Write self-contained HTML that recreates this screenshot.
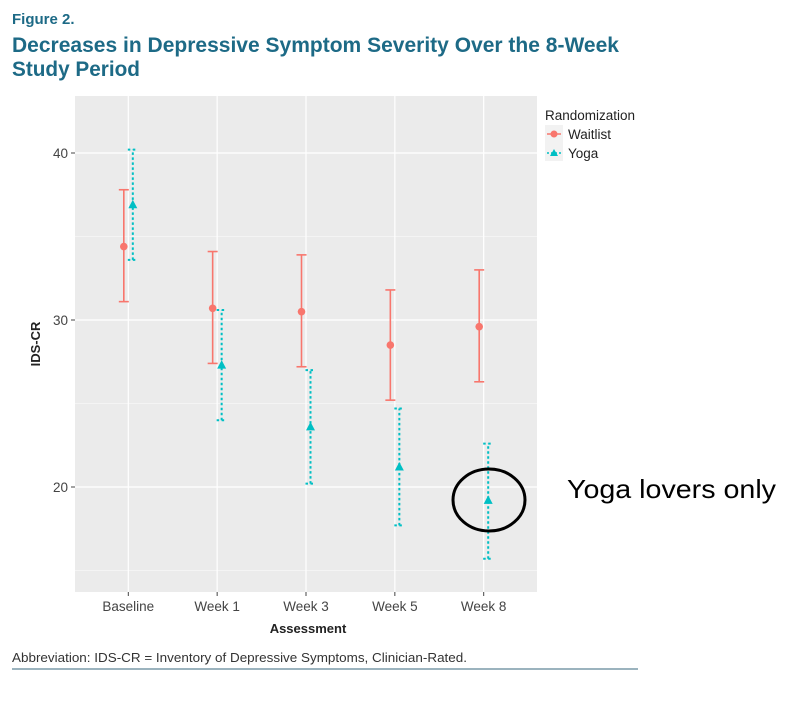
<!DOCTYPE html>
<html><head><meta charset="utf-8">
<style>
body{margin:0;background:#fff;width:805px;height:702px;overflow:hidden;font-family:"Liberation Sans",sans-serif;}
</style></head>
<body>
<svg width="805" height="702">
<text x="12" y="24" font-size="15" font-weight="bold" fill="#1d6a86">Figure 2.</text>
<text x="12" y="52" font-size="21" font-weight="bold" fill="#1d6a86" textLength="607" lengthAdjust="spacingAndGlyphs">Decreases in Depressive Symptom Severity Over the 8-Week</text>
<text x="12" y="76" font-size="21" font-weight="bold" fill="#1d6a86" textLength="128" lengthAdjust="spacingAndGlyphs">Study Period</text>
<rect x="75" y="96" width="462" height="496" fill="#ebebeb"/>
<g id="grid"></g>
<g id="marks"></g>
<g id="axes"></g>
<text x="308" y="633" font-size="13" font-weight="bold" text-anchor="middle" fill="#222">Assessment</text>
<text transform="translate(40,344) rotate(-90)" font-size="13" font-weight="bold" text-anchor="middle" fill="#222">IDS-CR</text>
<g>
<text x="545" y="120" font-size="13.5" fill="#222">Randomization</text>
<rect x="545" y="125" width="18" height="36" fill="#f2f2f2"/>
<line x1="547" y1="134" x2="561" y2="134" stroke="#f8766d" stroke-width="1.5"/>
<circle cx="554" cy="134" r="3.5" fill="#f8766d"/>
<text x="568" y="139" font-size="13.5" fill="#222">Waitlist</text>
<line x1="547" y1="153" x2="561" y2="153" stroke="#00bfc4" stroke-width="1.5" stroke-dasharray="2,2"/>
<polygon points="554,149 558,156 550,156" fill="#00bfc4"/>
<text x="568" y="158" font-size="13.5" fill="#222">Yoga</text>
</g>
<ellipse cx="489" cy="500" rx="36" ry="31" fill="none" stroke="#000" stroke-width="3"/>
<text x="567" y="498" font-size="26" fill="#000" textLength="209" lengthAdjust="spacingAndGlyphs">Yoga lovers only</text>
<text x="12" y="662" font-size="13" fill="#333" textLength="455" lengthAdjust="spacingAndGlyphs">Abbreviation: IDS-CR = Inventory of Depressive Symptoms, Clinician-Rated.</text>
<line x1="12" y1="669" x2="638" y2="669" stroke="#7a9aa8" stroke-width="1.5"/>
</svg>
<script>
const categories=["Baseline","Week 1","Week 3","Week 5","Week 8"];
const waitlistMean=[34.4,30.7,30.5,28.5,29.6];
const waitlistLow=[31.1,27.4,27.2,25.2,26.3];
const waitlistHigh=[37.8,34.1,33.9,31.8,33.0];
const yogaMean=[36.9,27.3,23.6,21.2,19.2];
const yogaLow=[33.6,24.0,20.2,17.7,15.7];
const yogaHigh=[40.2,30.6,27.0,24.7,22.6];
const yTicks=[20,30,40];
const yMinor=[15,25,35];
const NS="http://www.w3.org/2000/svg";
const px0=75,pw=462;
function xs(i){return px0+(i+0.6)*pw/5.2;}
function ys(v){return 320-(v-30)*16.7;}
function mk(tag,attrs,parent){const e=document.createElementNS(NS,tag);for(const k in attrs)e.setAttribute(k,attrs[k]);document.getElementById(parent).appendChild(e);return e;}
yMinor.forEach(v=>{const l=mk('line',{x1:75,x2:537,y1:ys(v),y2:ys(v),stroke:'#f7f7f7','stroke-width':0.7},'grid');

});
yTicks.forEach(v=>{const l=mk('line',{x1:75,x2:537,y1:ys(v),y2:ys(v),stroke:'#fff','stroke-width':1.2},'grid');


mk('line',{x1:71,x2:75,y1:ys(v),y2:ys(v),stroke:'#444'},'axes');
const t=mk('text',{x:68,y:ys(v)+5,'font-size':13.5,'text-anchor':'end',fill:'#444'},'axes');t.textContent=v;

});
categories.forEach((c,i)=>{const x=xs(i);
const l=mk('line',{x1:x,x2:x,y1:96,y2:592,stroke:'#fff','stroke-width':1.2},'grid');


mk('line',{x1:x,x2:x,y1:592,y2:596,stroke:'#444'},'axes');
const t=mk('text',{x:x,y:611,'font-size':13.5,'text-anchor':'middle',fill:'#444'},'axes');t.textContent=c;

});
function series(mean,lo,hi,off,col,dash,shape,name){
mean.forEach((m,i)=>{const x=xs(i)+off;
const a={stroke:col,'stroke-width':dash?2:1.6};if(dash)a['stroke-dasharray']='2.5,2.5';
const e=mk('line',Object.assign({x1:x,x2:x,y1:ys(lo[i]),y2:ys(hi[i])},a),'marks');


mk('line',Object.assign({x1:x-5,x2:x+5,y1:ys(lo[i]),y2:ys(lo[i])},a),'marks');
mk('line',Object.assign({x1:x-5,x2:x+5,y1:ys(hi[i]),y2:ys(hi[i])},a),'marks');
let p;const y=ys(m);
if(shape==='c')p=mk('circle',{cx:x,cy:y,r:3.8,fill:col},'marks');
else p=mk('polygon',{points:`${x},${y-5} ${x+4.5},${y+3.5} ${x-4.5},${y+3.5}`,fill:col},'marks');

});}
series(waitlistMean,waitlistLow,waitlistHigh,-4.5,'#f8766d',false,'c','waitlist');
series(yogaMean,yogaLow,yogaHigh,4.5,'#00bfc4',true,'t','yoga');
</script>
</body></html>
